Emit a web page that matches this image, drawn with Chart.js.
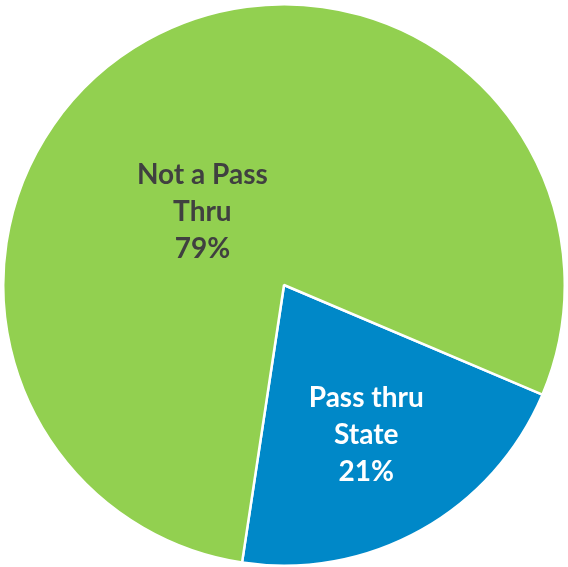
<!DOCTYPE html>
<html>
<head>
<meta charset="utf-8">
<script src="https://cdn.jsdelivr.net/npm/chart.js@4/dist/chart.umd.min.js"></script>
<style>
  html, body { margin: 0; padding: 0; background: #fff; }
  #wrap { width: 568px; height: 567px; }
</style>
</head>
<body>
<div id="wrap"><canvas id="pie"></canvas></div>
<script>
// Categorías y valores (porcentaje)
const categorias = ['Pass thru State', 'Not a Pass Thru'];
const lineasEtiqueta = [['Pass thru', 'State'], ['Not a Pass', 'Thru']];
const valores = [21, 79];
const colores = ['#0088C8', '#92D050'];
const coloresTexto = ['#ffffff', '#404040'];

// Ubicación de cada etiqueta: desplazamiento angular (grados) y fracción del radio
const ubicacion = [
    { giro: 0.5, radio: 0.61 },
    { giro: -19, radio: 0.39 }
];

const etiquetasPlugin = {
    id: 'etiquetas',
    afterDatasetsDraw(chart) {
        const ctx = chart.ctx;
        const meta = chart.getDatasetMeta(0);
        ctx.save();
        ctx.font = 'bold 28px Lato, "Open Sans", sans-serif';
        ctx.textAlign = 'center';
        ctx.textBaseline = 'middle';
        meta.data.forEach((arc, i) => {
            const p = arc.getProps(['x', 'y', 'startAngle', 'endAngle', 'outerRadius'], true);
            const ang = (p.startAngle + p.endAngle) / 2 + ubicacion[i].giro * Math.PI / 180;
            const r = p.outerRadius * ubicacion[i].radio;
            const cx = p.x + Math.cos(ang) * r;
            const cy = p.y + Math.sin(ang) * r;
            const lineas = [...lineasEtiqueta[i], valores[i] + '%'];
            const alto = 37;
            ctx.fillStyle = coloresTexto[i];
            lineas.forEach((t, k) => {
                ctx.fillText(t, cx, cy + (k - (lineas.length - 1) / 2) * alto);
            });
        });
        ctx.restore();
    }
};

new Chart(document.getElementById('pie').getContext('2d'), {
    type: 'pie',
    data: {
        labels: categorias,
        datasets: [{
            data: valores,
            backgroundColor: colores,
            borderColor: '#ffffff',
            borderWidth: 2.5
        }]
    },
    options: {
        responsive: true,
        maintainAspectRatio: false,
        animation: false,
        rotation: 113,
        layout: { padding: { top: 3, bottom: 0, left: 0, right: 0 } },
        plugins: {
            legend: { display: false },
            tooltip: { enabled: false }
        }
    },
    plugins: [etiquetasPlugin]
});
</script>
</body>
</html>
